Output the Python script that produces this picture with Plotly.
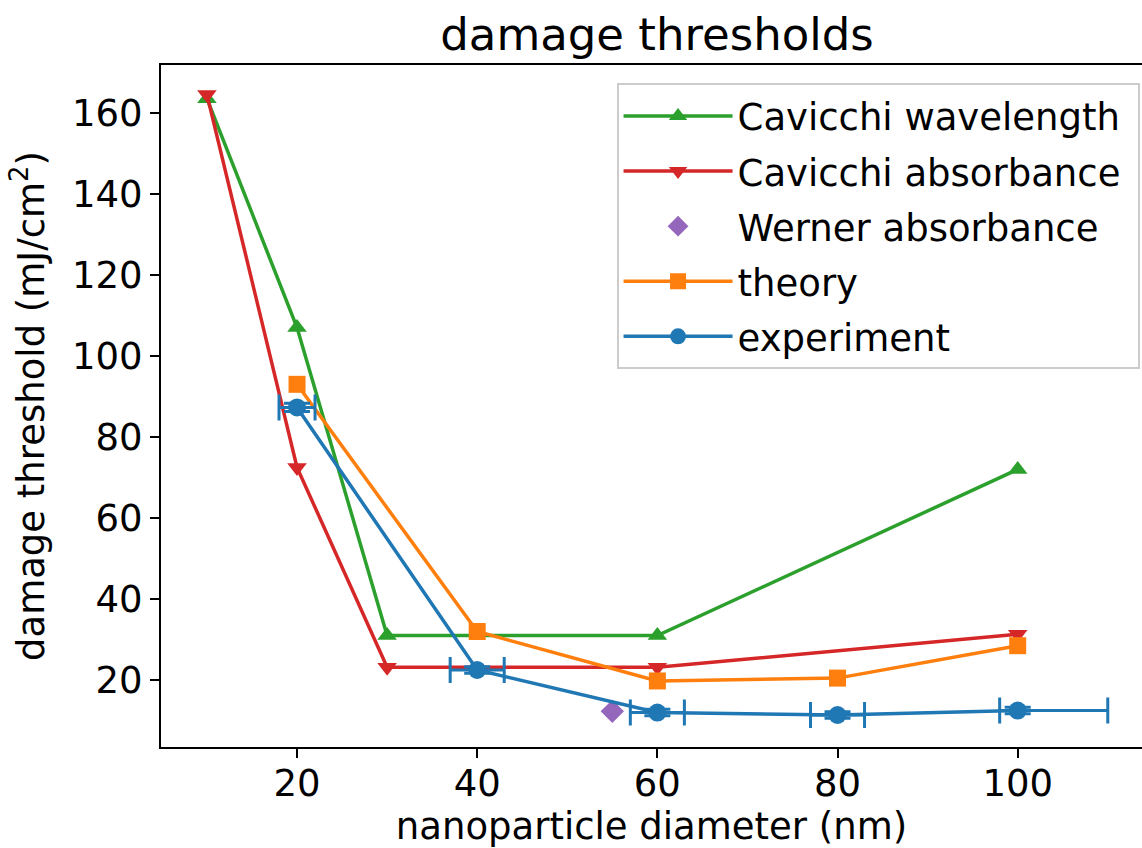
import plotly.graph_objects as go

# Data
cav_wl_x = [10, 20, 30, 60, 100]
cav_wl_y = [163.5, 107, 31, 31, 72]

cav_abs_x = [10, 20, 30, 60, 100]
cav_abs_y = [164.5, 72.5, 23.2, 23.2, 31.3]

werner_x = [55]
werner_y = [12.3]

theory_x = [20, 40, 60, 80, 100]
theory_y = [93, 32, 19.8, 20.5, 28.5]

exp_x = [20, 40, 60, 80, 100]
exp_y = [87.3, 22.5, 12.0, 11.4, 12.5]
exp_xerr_plus = [2, 3, 3, 3, 10]
exp_xerr_minus = [2, 3, 3, 3, 2]
exp_yerr = [1.0, 0.8, 0.8, 0.8, 0.8]

BLUE = "#1f77b4"
ORANGE = "#ff7f0e"
GREEN = "#2ca02c"
RED = "#d62728"
PURPLE = "#9467bd"

FONT = "DejaVu Sans"
FS = 37

fig = go.Figure()

fig.add_trace(go.Scatter(
    x=cav_wl_x, y=cav_wl_y, mode="lines+markers",
    name="Cavicchi wavelength\u00a0",
    line=dict(color=GREEN, width=3.5), legendgroup="g1",
    marker=dict(symbol="triangle-up", size=17, color=GREEN), legendrank=1))

fig.add_trace(go.Scatter(
    x=cav_abs_x, y=cav_abs_y, mode="lines+markers",
    name="Cavicchi absorbance\u00a0",
    line=dict(color=RED, width=3.5), legendgroup="g2",
    marker=dict(symbol="triangle-down", size=17, color=RED), legendrank=2))

fig.add_trace(go.Scatter(
    x=werner_x, y=werner_y, mode="markers", name="Werner absorbance",
    legendgroup="g3",
    marker=dict(symbol="diamond", size=18, color=PURPLE), legendrank=3))

fig.add_trace(go.Scatter(
    x=theory_x, y=theory_y, mode="lines+markers", name="theory",
    line=dict(color=ORANGE, width=3.5), legendgroup="g4",
    marker=dict(symbol="square", size=17, color=ORANGE), legendrank=4))

fig.add_trace(go.Scatter(
    x=exp_x, y=exp_y, mode="lines+markers", name="experiment",
    line=dict(color=BLUE, width=3.5), legendgroup="g5",
    marker=dict(symbol="circle", size=18, color=BLUE),
    error_x=dict(type="data", array=exp_xerr_plus, arrayminus=exp_xerr_minus,
                 color=BLUE, thickness=3, width=13, visible=True),
    error_y=dict(type="data", array=exp_yerr, color=BLUE, thickness=3,
                 width=13, visible=True),
    legendrank=5))

fig.update_layout(
    width=1142, height=848,
    margin=dict(l=161, r=0, t=65, b=101),
    paper_bgcolor="white", plot_bgcolor="white",
    font=dict(family=FONT, size=FS, color="black"),
    title=dict(text="damage thresholds", x=0.5056, xref="paper",
               xanchor="center",
               y=1, yref="paper", yanchor="bottom", pad=dict(b=15),
               font=dict(family=FONT, size=45, color="black")),
    showlegend=True,
    legend=dict(x=0.9975, xanchor="right", y=0.973, yanchor="top",
                bgcolor="white", bordercolor="#cccccc", borderwidth=2,
                font=dict(family=FONT, size=FS, color="black"),
                itemwidth=109, tracegroupgap=4),
)

fig.update_xaxes(
    range=[4.9, 113.8], showgrid=False, zeroline=False,
    showline=True, linecolor="black", linewidth=2, mirror=True,
    ticks="outside", ticklen=9, tickwidth=2, tickcolor="black",
    ticklabelstandoff=-6,
    tickvals=[20, 40, 60, 80, 100],
    tickfont=dict(family=FONT, size=FS, color="black"),
    title=dict(text="nanoparticle diameter (nm)", standoff=14,
               font=dict(family=FONT, size=FS, color="black")),
    automargin=False,
)
fig.update_yaxes(
    range=[3.5, 171.8], showgrid=False, zeroline=False,
    showline=True, linecolor="black", linewidth=2, mirror=False,
    ticks="outside", ticklen=9, tickwidth=2, tickcolor="black",
    tickvals=[20, 40, 60, 80, 100, 120, 140, 160],
    tickfont=dict(family=FONT, size=FS, color="black"),
    title=dict(text="damage threshold (mJ/cm<sup>2</sup>)", standoff=16,
               font=dict(family=FONT, size=FS, color="black")),
    automargin=False,
)

fig.write_html("out.html")
